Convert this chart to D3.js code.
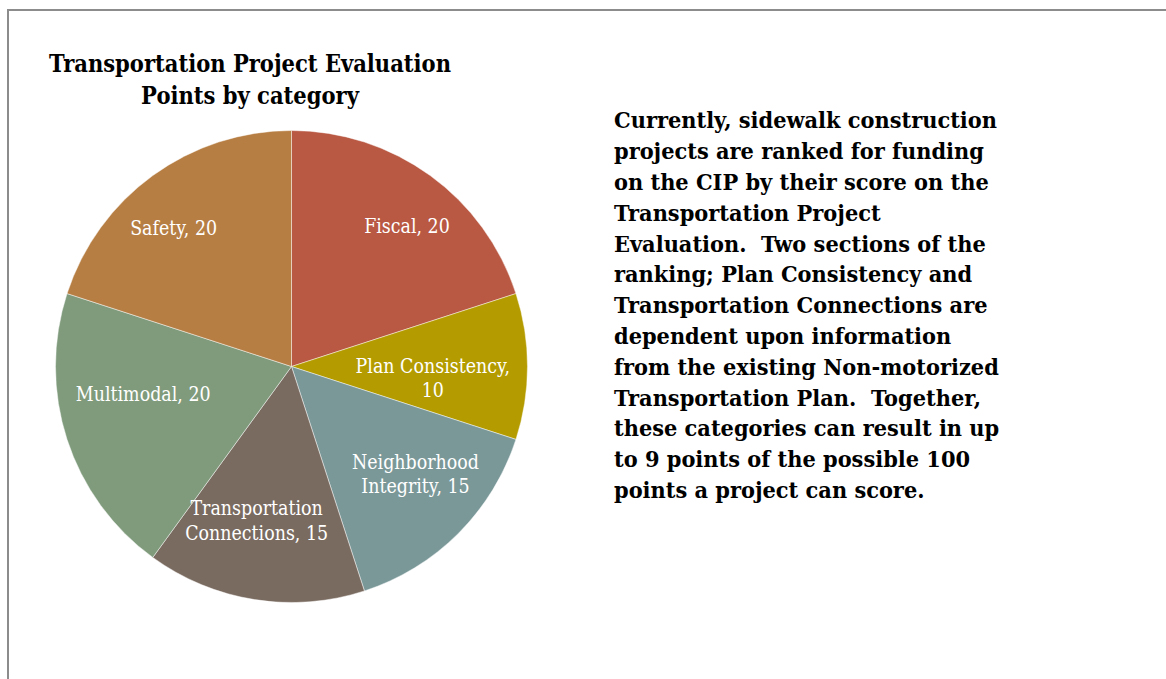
<!DOCTYPE html>
<html>
<head>
<meta charset="utf-8">
<script src="https://cdn.jsdelivr.net/npm/d3@7"></script>
<style>
  html, body { margin: 0; padding: 0; background: #fff; overflow: hidden; }
  svg { display: block; }
  text { white-space: pre; }
</style>
</head>
<body>
<svg id="chart" width="1166" height="679"></svg>
<script>
// ---- data ----
const categories = ["Fiscal", "Plan Consistency", "Neighborhood Integrity", "Transportation Connections", "Multimodal", "Safety"];
const points = [20, 10, 15, 15, 20, 20];
const titleLines = ["Transportation Project Evaluation", "Points by category"];
const noteLines = [
  "Currently, sidewalk construction",
  "projects are ranked for funding",
  "on the CIP by their score on the",
  "Transportation Project",
  "Evaluation.  Two sections of the",
  "ranking; Plan Consistency and",
  "Transportation Connections are",
  "dependent upon information",
  "from the existing Non-motorized",
  "Transportation Plan.  Together,",
  "these categories can result in up",
  "to 9 points of the possible 100",
  "points a project can score."
];

// ---- layout / style ----
const colors = ["#B95843", "#B49C00", "#7B9899", "#7A6B60", "#7F9B7C", "#B77E43"];
const wrapAfterWords = [0, 2, 1, 1, 0, 0];
const labelRadius = [0.771, 0.601, 0.694, 0.667, 0.639, 0.772];
const labelNudgeDeg = [3.4, 4.65, -4.2, 3.8, 7.5, -4.3];
const FONT = "'DejaVu Serif', 'Liberation Serif', serif";
const CAP = 0.729;

const svg = d3.select("#chart");

// frame
svg.append("rect")
  .attr("x", 8).attr("y", 10)
  .attr("width", 1200).attr("height", 700)
  .attr("fill", "none").attr("stroke", "#8c8c8c").attr("stroke-width", 2);

function natWidth(str, size, weight) {
  const t = svg.append("text").attr("font-family", FONT).attr("font-size", size)
    .attr("font-weight", weight).text(str);
  const w = t.node().getComputedTextLength();
  t.remove();
  return w;
}
// scale factor so that reference line reaches target width at given size
function hScale(refStr, targetW, size, weight) {
  return targetW / natWidth(refStr, size, weight);
}
function squeeze(sel, size, weight, k) {
  sel.each(function () {
    const w = this.getComputedTextLength();
    d3.select(this).attr("textLength", w * k).attr("lengthAdjust", "spacingAndGlyphs");
  });
}

// title
const titleSize = 17 / CAP;
const titleK = hScale(titleLines[0], 402, titleSize, "bold");
const titles = svg.append("g").selectAll("text").data(titleLines).join("text")
  .attr("x", 250)
  .attr("y", (d, i) => 72.3 + i * 32)
  .attr("text-anchor", "middle")
  .attr("font-family", FONT).attr("font-weight", "bold")
  .attr("font-size", titleSize).attr("fill", "#000")
  .text(d => d);
squeeze(titles, titleSize, "bold", titleK);

// pie
const cx = 291.5, cy = 366.5, R = 236;
const pie = d3.pie().sort(null).value(d => d)(points);
const arc = d3.arc().innerRadius(0).outerRadius(R);
const g = svg.append("g").attr("transform", `translate(${cx},${cy})`);
g.selectAll("path").data(pie).join("path")
  .attr("d", arc)
  .attr("fill", (d, i) => colors[i])
  .attr("stroke", "rgba(255,255,255,0.45)")
  .attr("stroke-width", 1);

// labels
const labelSize = 14.5 / CAP;
const labelK = hScale("Connections, 15", 143, labelSize, "normal");
const lineH = 24.5;
pie.forEach((d, i) => {
  const words = (categories[i] + ", " + points[i]).split(" ");
  const k = wrapAfterWords[i];
  const lines = k > 0 ? [words.slice(0, k).join(" "), words.slice(k).join(" ")] : [words.join(" ")];
  const a = (d.startAngle + d.endAngle) / 2 + labelNudgeDeg[i] * Math.PI / 180;
  const r = labelRadius[i] * R;
  const x = r * Math.sin(a), y = -r * Math.cos(a);
  const y0 = y - (lines.length - 1) * lineH / 2 + CAP * labelSize / 2;
  const tl = g.append("g").selectAll("text").data(lines).join("text")
    .attr("x", x).attr("y", (ln, j) => y0 + j * lineH)
    .attr("text-anchor", "middle")
    .attr("font-family", FONT).attr("font-size", labelSize)
    .attr("fill", "#fff")
    .text(ln => ln);
  squeeze(tl, labelSize, "normal", labelK);
});

// note text
const noteSize = 16.8 / CAP;
const noteK = hScale(noteLines[0], 383, noteSize, "bold");
const notes = svg.append("g").selectAll("text").data(noteLines).join("text")
  .attr("x", 614)
  .attr("y", (d, i) => 128.3 + i * 30.8)
  .attr("font-family", FONT).attr("font-weight", "bold")
  .attr("font-size", noteSize).attr("fill", "#000")
  .text(d => d);
squeeze(notes, noteSize, "bold", noteK);
</script>
</body>
</html>
